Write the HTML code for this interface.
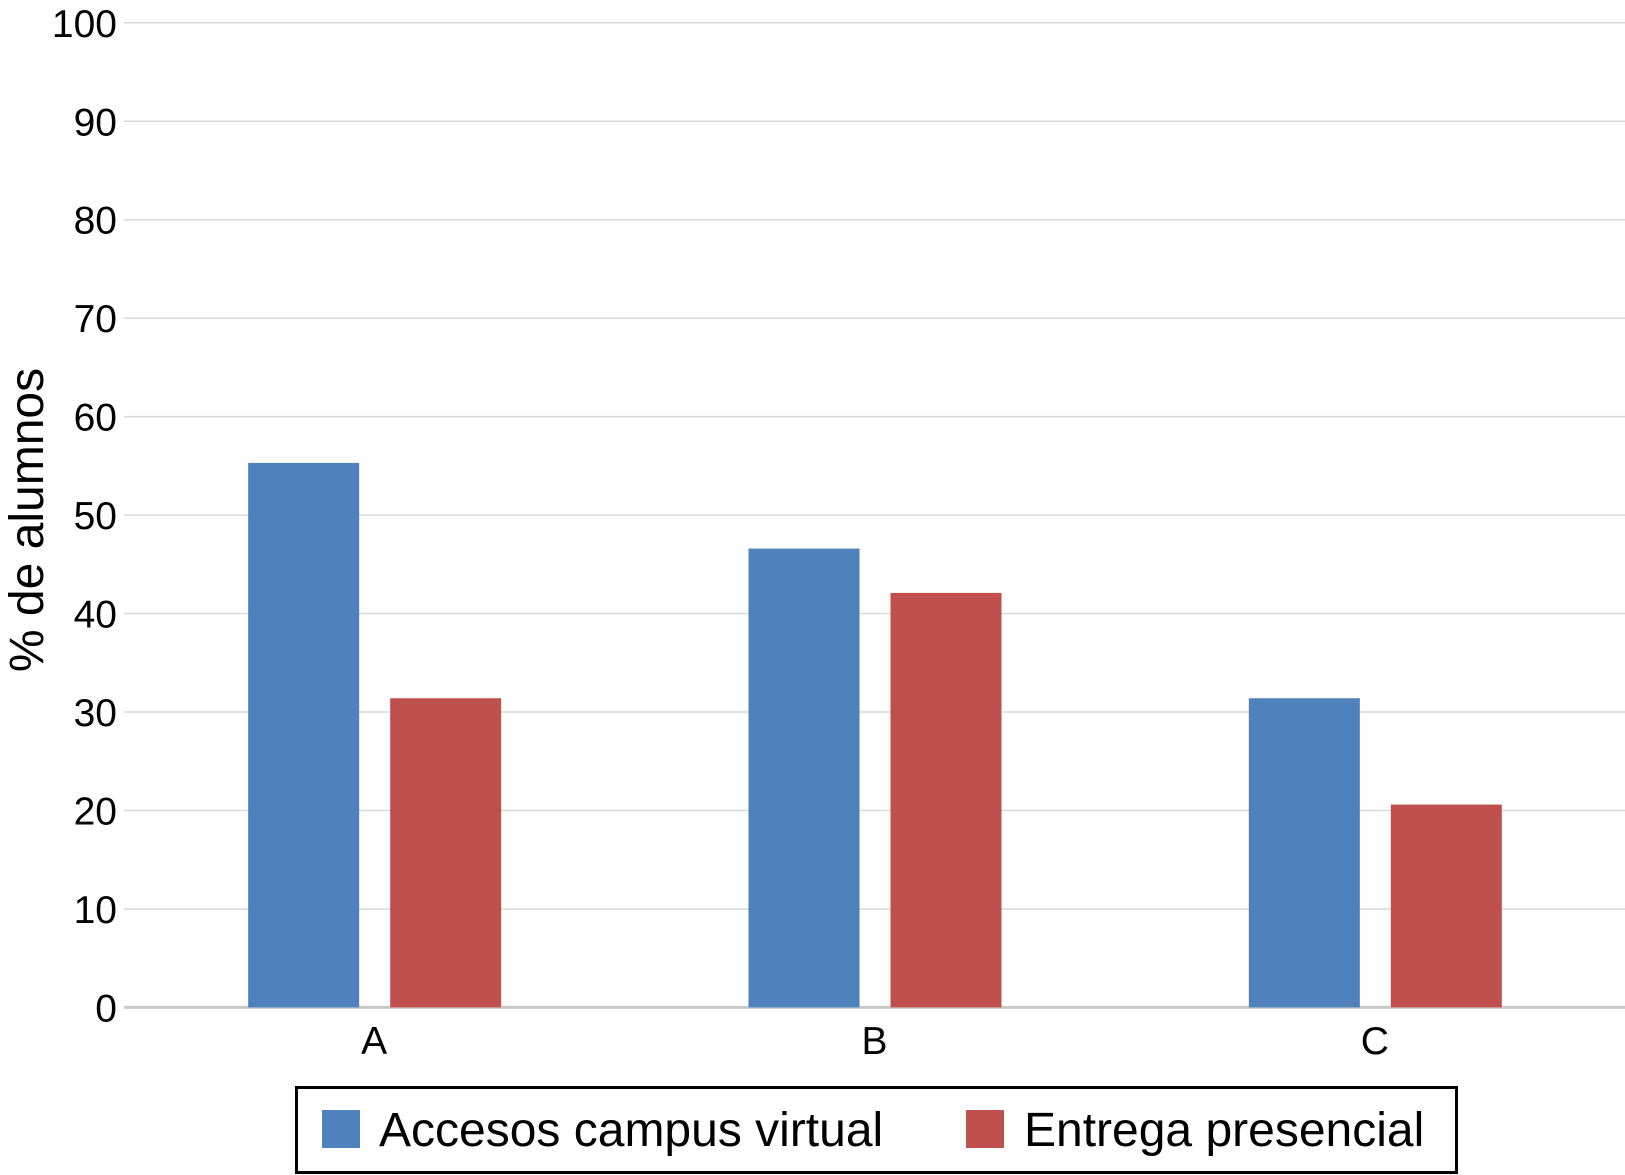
<!DOCTYPE html>
<html><head><meta charset="utf-8"><style>
html,body{margin:0;padding:0;background:#fff;}
svg{display:block;font-family:"Liberation Sans",Arial,sans-serif;}
</style></head><body>
<svg id="chart" width="1625" height="1175" viewBox="0 0 1625 1175">
<g id="grid"></g>
<g id="yticks"></g>
<g id="bars"></g>
<g id="xlabels"></g>
<text x="0" y="0" transform="translate(43,520) rotate(-90)" text-anchor="middle" font-size="48" fill="#000">% de alumnos</text>
<g>
<rect x="296.5" y="1087.5" width="1160" height="85" fill="#fff" stroke="#000" stroke-width="3"/>
<g>
<rect x="322" y="1110" width="38" height="38" fill="#4f81bd"/>
<text x="379" y="1146" font-size="48" fill="#000">Accesos campus virtual</text>
</g>
<g>
<rect x="966" y="1110" width="38" height="38" fill="#c0504d"/>
<text x="1024" y="1146" font-size="48" fill="#000">Entrega presencial</text>
</g>
</g>
</svg>
<script>
const categories = ["A","B","C"];
const accesos = [55.3, 46.6, 31.4];
const entrega = [31.4, 42.1, 20.6];
const yTicks = [0,10,20,30,40,50,60,70,80,90,100];

const NS="http://www.w3.org/2000/svg";
const plotLeft=124, plotRight=1625, plotTop=22.8, zeroY=1007.4;
function yScale(v){return zeroY-(zeroY-plotTop)*v/100;}
function xCenter(i){return plotLeft+(plotRight-plotLeft)/categories.length*(i+0.5);}
function mk(tag,attrs,parent){const e=document.createElementNS(NS,tag);for(const k in attrs)e.setAttribute(k,attrs[k]);parent.appendChild(e);return e;}
const grid=document.getElementById('grid'),yt=document.getElementById('yticks'),bars=document.getElementById('bars'),xl=document.getElementById('xlabels');
yTicks.forEach(t=>{
  const l=mk('line',{x1:plotLeft,x2:plotRight,y1:yScale(t),y2:yScale(t),stroke:t===0?'#c8c8c8':'#d9d9d9','stroke-width':t===0?3:1.5},grid);
  
  
  const tx=mk('text',{x:117,y:yScale(t)+14,'text-anchor':'end','font-size':39,fill:'#000'},yt);
  tx.textContent=t;
  
  
});
const bw=111;
categories.forEach((c,i)=>{
  const cx=xCenter(i);
  const b1=mk('rect',{x:cx-126,y:yScale(accesos[i]),width:bw,height:zeroY-yScale(accesos[i]),fill:'#4f81bd'},bars);
  
  
  const b2=mk('rect',{x:cx+16,y:yScale(entrega[i]),width:bw,height:zeroY-yScale(entrega[i]),fill:'#c0504d'},bars);
  
  
  const t=mk('text',{x:cx,y:1054,'text-anchor':'middle','font-size':39,fill:'#000'},xl);
  t.textContent=c;
  
  
});
</script>
</body></html>
